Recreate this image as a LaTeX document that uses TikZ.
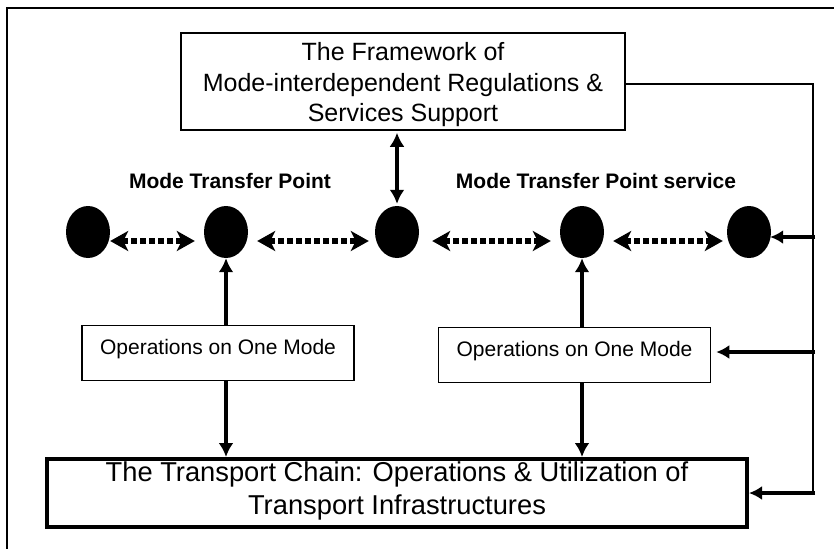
\documentclass[tikz,border=0pt]{standalone}
\usepackage{fontspec}
\setmainfont{Liberation Sans}
\usetikzlibrary{arrows.meta,calc,shapes.geometric}
\begin{document}
\begin{tikzpicture}[x=1pt,y=-1pt,
  thinbox/.style={draw, line width=1.5pt, inner sep=0pt},
  fwbox/.style={thinbox, minimum width=444pt, minimum height=97pt},
  fwtext/.style={align=center, inner sep=0pt, font=\fontsize{25}{30.5}\selectfont},
  opsbox/.style={thinbox, minimum width=272pt, minimum height=55pt,
    font=\fontsize{21}{25}\selectfont, text height=15pt, text depth=12pt},
  chainbox/.style={draw, line width=4pt, minimum width=700pt, minimum height=68pt, inner sep=0pt},
  chaintext/.style={align=center, font=\fontsize{27.3}{33}\selectfont, inner sep=0pt},
  lab/.style={font=\bfseries\fontsize{21}{25}\selectfont, inner sep=0pt, anchor=base},
  dot/.style={ellipse, fill=black, minimum width=44pt, minimum height=52pt, inner sep=0pt},
  dotarrow/.style={line width=6pt, dash pattern=on 6pt off 3pt,
    {Stealth[length=18pt,width=20pt,inset=5pt]}-{Stealth[length=18pt,width=20pt,inset=5pt]}},
  vline/.style={line width=4.5pt, -{Latex[length=14pt,width=15pt]}},
  dbl/.style={line width=3.5pt, {Latex[length=14pt,width=15pt]}-{Latex[length=14pt,width=15pt]}},
  branch/.style={line width=3.5pt, -{Latex[length=13pt,width=14pt]}},
  thin/.style={line width=1.5pt}
]
\useasboundingbox (0,0) rectangle (834,549);

% outer frame
\coordinate (ftr) at (834,8);
\coordinate (ftl) at (7,8);
\coordinate (fbl) at (7,549);
\draw[thin] (ftr) -- (ftl) -- (fbl);

% boxes
\node[fwbox] (fw) at (403,81.5) {};
\node[fwtext] (fwt) at (403,85) {The Framework of\\Mode-interdependent Regulations \&\\Services Support};
\node[opsbox] (o1) at (218,353) {Operations on One Mode};
\node[opsbox] (o2) at (574.5,355) {Operations on One Mode};
\node[chainbox] (ch) at (397,493) {};
\node[chaintext] (cht) at (397,490.5) {The Transport Chain: Operations \& Utilization of\\Transport Infrastructures};

% labels
\node[lab] (l1) at (230,188) {Mode Transfer Point};
\node[lab] (l2) at (596,188) {Mode Transfer Point service};

% ellipses
\node[dot] (e1) at (88,232) {};
\node[dot] (e2) at (226,232) {};
\node[dot] (e3) at (397,232) {};
\node[dot] (e4) at (582,232) {};
\node[dot] (e5) at (749,232) {};

% dotted double arrows
\draw[dotarrow, shorten <=0pt, shorten >=9pt] ($(e1.east)+(0,9)$) -- ($(e2.west)+(0,9)$);
\draw[dotarrow, shorten <=9pt, shorten >=6pt] ($(e2.east)+(0,9)$) -- ($(e3.west)+(0,9)$);
\draw[dotarrow, shorten <=13pt, shorten >=9pt] ($(e3.east)+(0,9)$) -- ($(e4.west)+(0,9)$);
\draw[dotarrow, shorten <=9pt, shorten >=4pt] ($(e4.east)+(0,9)$) -- ($(e5.west)+(0,9)$);

% framework <-> middle point
\draw[dbl, shorten <=2pt, shorten >=2pt] (fw.south -| e3) -- (e3.north);

% vertical arrows
\draw[vline] (o1.north -| e2) -- (e2.south);
\draw[vline] (o1.south -| e2) -- (ch.north -| e2);
\draw[vline] (o2.north -| e4) -- (e4.south);
\draw[vline] (o2.south -| e4) -- (ch.north -| e4);

% right feedback connector
\coordinate (rt) at (813,84);
\coordinate (rb) at (813,493);
\draw[thin] (fw.east |- rt) -- (rt) -- (rb);
\coordinate (b1) at (815,237);
\coordinate (b2) at (815,352);
\coordinate (b3) at (815,493);
\draw[branch, shorten >=-1pt] (b1) -- (e5.east |- b1);
\draw[branch, shorten >=5pt] (b2) -- (o2.east |- b2);
\draw[branch] (b3) -- (ch.east);
\end{tikzpicture}
\end{document}
